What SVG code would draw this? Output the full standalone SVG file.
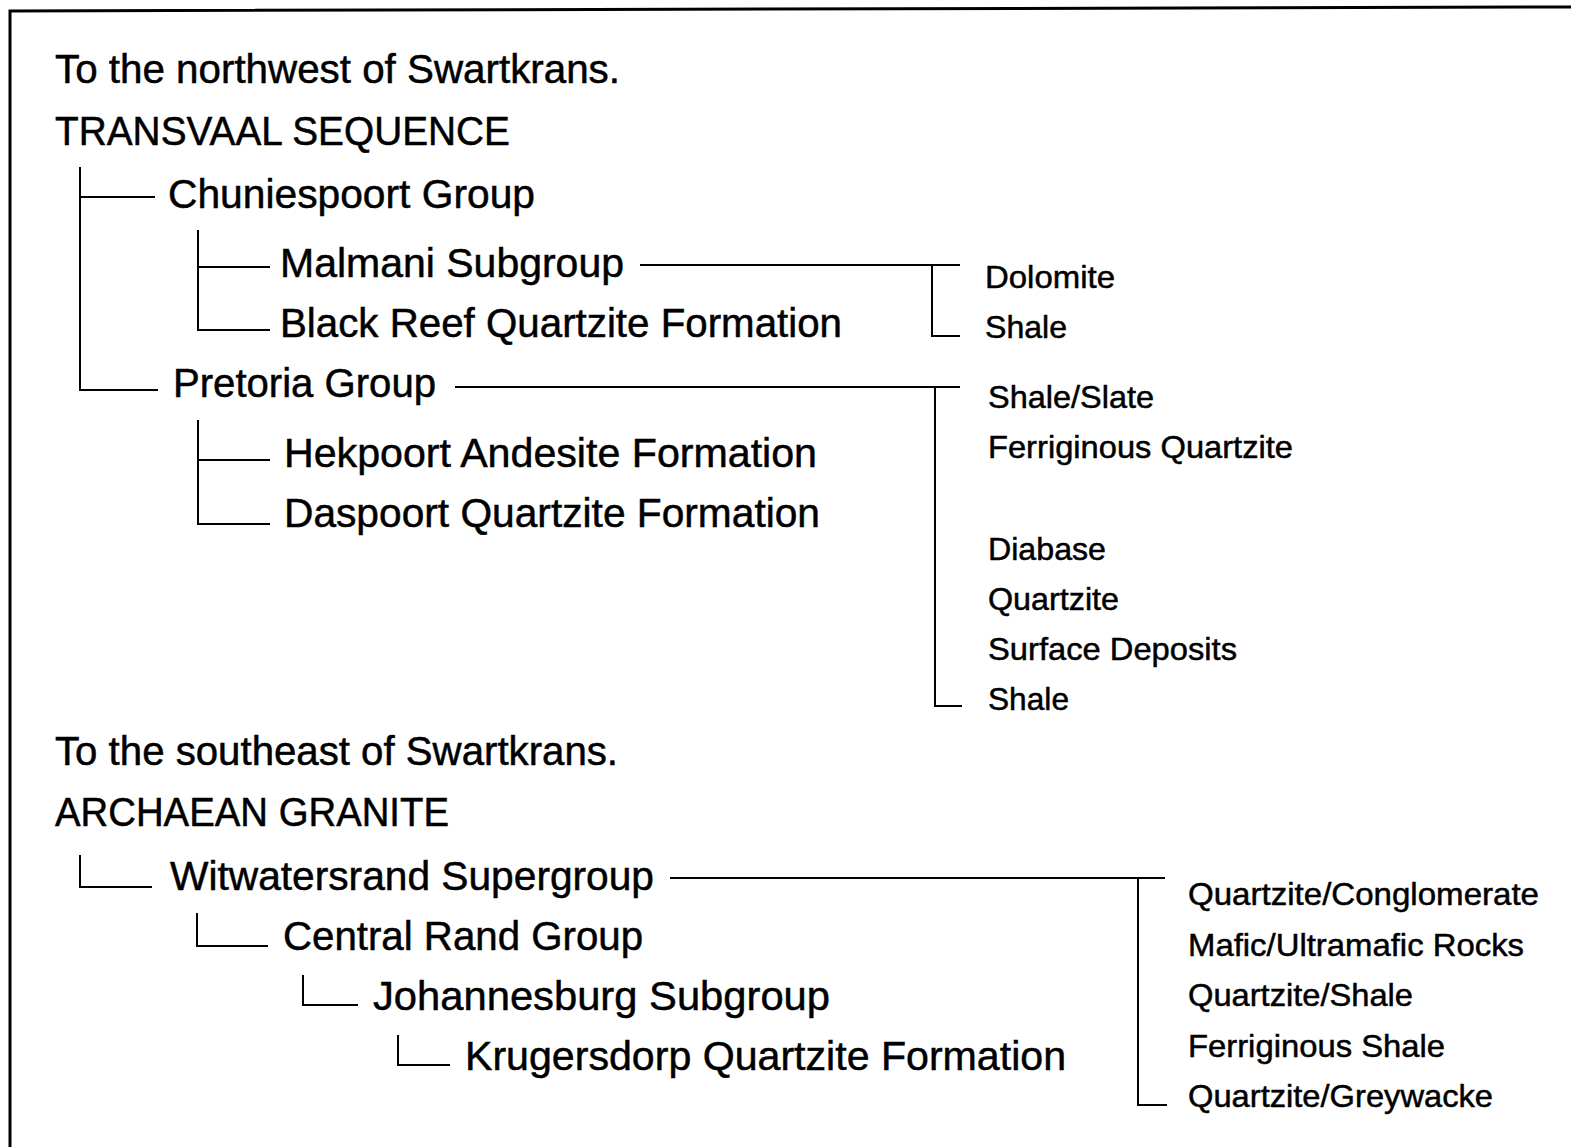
<svg xmlns="http://www.w3.org/2000/svg" width="1571" height="1147" viewBox="0 0 1571 1147">
<style>
text{font-family:"Liberation Sans",Arial,Helvetica,sans-serif;fill:#000;stroke:#000;stroke-width:0.5}
.lg{font-size:40px}
.sm{font-size:32px}
.ln{stroke:#000;stroke-width:2;fill:none}
.frame{stroke:#000;stroke-width:3;fill:none}
</style>
<rect width="1571" height="1147" fill="#fff"/>
<g id="frame">
<polyline class="frame" points="10,1147 10,11 1571,7"/>
</g>
<g id="headings">
<text class="lg" x="55" y="83" textLength="565" lengthAdjust="spacingAndGlyphs">To the northwest of Swartkrans.</text>
<text class="lg" x="55" y="145" textLength="455" lengthAdjust="spacingAndGlyphs">TRANSVAAL SEQUENCE</text>
<text class="lg" x="55" y="765" textLength="563" lengthAdjust="spacingAndGlyphs">To the southeast of Swartkrans.</text>
<text class="lg" x="55" y="826" textLength="394" lengthAdjust="spacingAndGlyphs">ARCHAEAN GRANITE</text>
</g>
<g id="connectors">
<path class="ln" d="M80,167 V390 H158 M80,197 H155"/>
<path class="ln" d="M198,230 V330 H270 M198,267 H270"/>
<path class="ln" d="M198,420 V524 H270 M198,460 H270"/>
<path class="ln" d="M640,265 H960 M932,265 V336 H960"/>
<path class="ln" d="M455,387 H960 M935,387 V706 H962"/>
<path class="ln" d="M80,855 V887 H152"/>
<path class="ln" d="M197,913 V946 H268"/>
<path class="ln" d="M303,975 V1005 H358"/>
<path class="ln" d="M398,1035 V1065 H450"/>
<path class="ln" d="M670,878 H1165 M1138,878 V1105 H1167"/>
</g>
<g id="node-chuniespoort"><text class="lg" x="168" y="208" textLength="367" lengthAdjust="spacingAndGlyphs">Chuniespoort Group</text></g>
<g id="node-malmani"><text class="lg" x="280" y="277" textLength="344" lengthAdjust="spacingAndGlyphs">Malmani Subgroup</text></g>
<g id="node-blackreef"><text class="lg" x="280" y="337" textLength="562" lengthAdjust="spacingAndGlyphs">Black Reef Quartzite Formation</text></g>
<g id="node-pretoria"><text class="lg" x="173" y="397" textLength="263" lengthAdjust="spacingAndGlyphs">Pretoria Group</text></g>
<g id="node-hekpoort"><text class="lg" x="284" y="467" textLength="533" lengthAdjust="spacingAndGlyphs">Hekpoort Andesite Formation</text></g>
<g id="node-daspoort"><text class="lg" x="284" y="527" textLength="536" lengthAdjust="spacingAndGlyphs">Daspoort Quartzite Formation</text></g>
<g id="node-witwatersrand"><text class="lg" x="170" y="890" textLength="484" lengthAdjust="spacingAndGlyphs">Witwatersrand Supergroup</text></g>
<g id="node-centralrand"><text class="lg" x="283" y="950" textLength="360" lengthAdjust="spacingAndGlyphs">Central Rand Group</text></g>
<g id="node-johannesburg"><text class="lg" x="373" y="1010" textLength="457" lengthAdjust="spacingAndGlyphs">Johannesburg Subgroup</text></g>
<g id="node-krugersdorp"><text class="lg" x="465" y="1070" textLength="601" lengthAdjust="spacingAndGlyphs">Krugersdorp Quartzite Formation</text></g>
<g id="node-malmani-rocks">
<text class="sm" x="985" y="288" textLength="130" lengthAdjust="spacingAndGlyphs">Dolomite</text>
<text class="sm" x="985" y="338" textLength="82" lengthAdjust="spacingAndGlyphs">Shale</text>
</g>
<g id="node-pretoria-rocks">
<text class="sm" x="988" y="408" textLength="166" lengthAdjust="spacingAndGlyphs">Shale/Slate</text>
<text class="sm" x="988" y="458" textLength="305" lengthAdjust="spacingAndGlyphs">Ferriginous Quartzite</text>
<text class="sm" x="988" y="560" textLength="118" lengthAdjust="spacingAndGlyphs">Diabase</text>
<text class="sm" x="988" y="610" textLength="131" lengthAdjust="spacingAndGlyphs">Quartzite</text>
<text class="sm" x="988" y="660" textLength="249" lengthAdjust="spacingAndGlyphs">Surface Deposits</text>
<text class="sm" x="988" y="710" textLength="81" lengthAdjust="spacingAndGlyphs">Shale</text>
</g>
<g id="node-witwatersrand-rocks">
<text class="sm" x="1188" y="905" textLength="351" lengthAdjust="spacingAndGlyphs">Quartzite/Conglomerate</text>
<text class="sm" x="1188" y="956" textLength="336" lengthAdjust="spacingAndGlyphs">Mafic/Ultramafic Rocks</text>
<text class="sm" x="1188" y="1006" textLength="225" lengthAdjust="spacingAndGlyphs">Quartzite/Shale</text>
<text class="sm" x="1188" y="1057" textLength="257" lengthAdjust="spacingAndGlyphs">Ferriginous Shale</text>
<text class="sm" x="1188" y="1107" textLength="305" lengthAdjust="spacingAndGlyphs">Quartzite/Greywacke</text>
</g>
</svg>
